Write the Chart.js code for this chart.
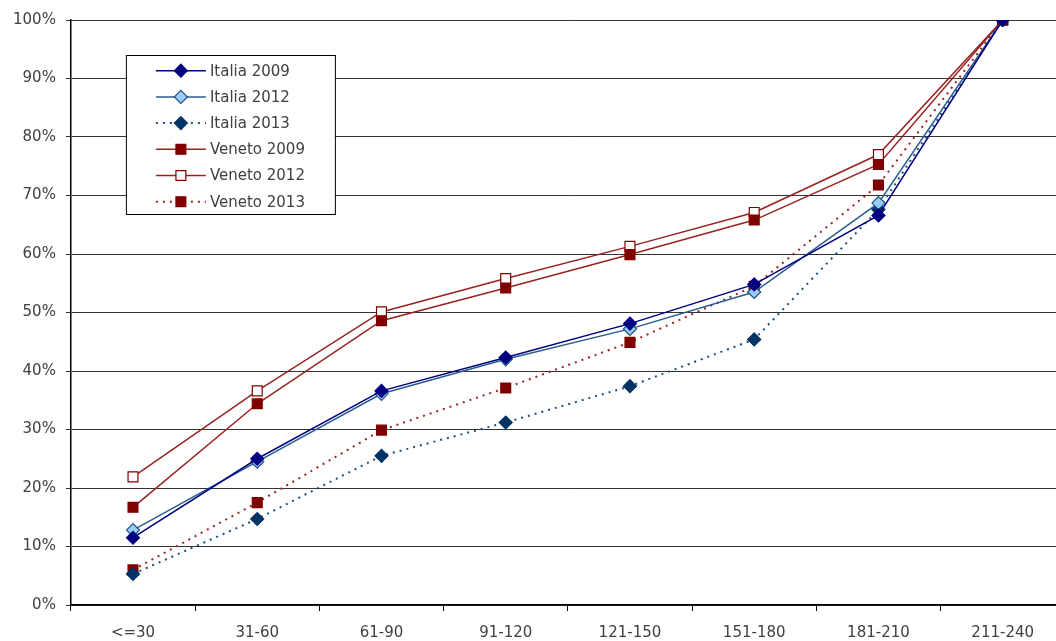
<!DOCTYPE html>
<html>
<head>
<meta charset="utf-8">
<script src="https://cdn.jsdelivr.net/npm/chart.js@4/dist/chart.umd.min.js"></script>
<style>
  html, body { margin: 0; padding: 0; background: #fff; overflow: hidden; }
  #wrap { position: relative; width: 1056px; height: 641px; overflow: hidden; }
  #c { position: absolute; left: 0; top: 0; }
</style>
</head>
<body>
<div id="wrap"><canvas id="c" width="1073" height="655"></canvas></div>
<script>
const categories = ['<=30', '31-60', '61-90', '91-120', '121-150', '151-180', '181-210', '211-240'];
const yTickValues = [0, 10, 20, 30, 40, 50, 60, 70, 80, 90, 100];

const italia2009 = [11.5, 25.0, 36.6, 42.3, 48.1, 54.8, 66.6, 100];
const italia2012 = [12.8, 24.5, 36.1, 42.0, 47.2, 53.5, 68.7, 100];
const italia2013 = [5.3, 14.7, 25.5, 31.2, 37.4, 45.4, 67.6, 100];
const veneto2009 = [16.7, 34.4, 48.6, 54.2, 59.9, 65.8, 75.3, 100];
const veneto2012 = [21.9, 36.6, 50.1, 55.8, 61.3, 67.1, 77.0, 100];
const veneto2013 = [6.0, 17.5, 29.9, 37.1, 44.9, 54.5, 71.8, 100];

const FONT = '"DejaVu Sans", Verdana, sans-serif';
const TXT = '#404040';

const datasets = [
  { label: 'Italia 2009', data: italia2009, borderColor: '#000080', backgroundColor: '#000080',
    pointBorderColor: '#000080', pointStyle: 'rectRot', pointRadius: 6.5, borderDash: [] },
  { label: 'Italia 2012', data: italia2012, borderColor: '#2A5E8E', backgroundColor: '#99CCFF',
    pointBorderColor: '#1F4F80', pointStyle: 'rectRot', pointRadius: 6.5, borderDash: [] },
  { label: 'Italia 2013', data: italia2013, borderColor: '#1F4E79', backgroundColor: '#003366',
    pointBorderColor: '#003366', pointStyle: 'rectRot', pointRadius: 6.5, borderDash: [2, 5] },
  { label: 'Veneto 2009', data: veneto2009, borderColor: '#992222', backgroundColor: '#800000',
    pointBorderColor: '#800000', pointStyle: 'rect', pointRadius: 7, borderDash: [] },
  { label: 'Veneto 2012', data: veneto2012, borderColor: '#992222', backgroundColor: '#FFFFFF',
    pointBorderColor: '#800000', pointStyle: 'rect', pointRadius: 7, borderDash: [] },
  { label: 'Veneto 2013', data: veneto2013, borderColor: '#992222', backgroundColor: '#800000',
    pointBorderColor: '#800000', pointStyle: 'rect', pointRadius: 7, borderDash: [2, 5] }
].map(d => Object.assign({
  borderWidth: d.borderDash.length ? 2 : 1.5,
  pointBackgroundColor: d.backgroundColor,
  pointBorderWidth: 1.2,
  pointHoverRadius: d.pointRadius,
  tension: 0,
  fill: false
}, d));

function drawMarker(ctx, style, x, y, r, fill, stroke, bw) {
  ctx.beginPath();
  if (style === 'rectRot') {
    ctx.moveTo(x, y - r); ctx.lineTo(x + r, y); ctx.lineTo(x, y + r); ctx.lineTo(x - r, y);
  } else {
    const s = r * Math.SQRT1_2;
    ctx.rect(x - s, y - s, 2 * s, 2 * s);
  }
  ctx.closePath();
  ctx.fillStyle = fill; ctx.fill();
  ctx.lineWidth = bw; ctx.strokeStyle = stroke; ctx.setLineDash([]); ctx.stroke();
}

const boxLegend = {
  id: 'boxLegend',
  afterDatasetsDraw(chart) {
    const ctx = chart.ctx;
    const ca = chart.chartArea;
    const bx = ca.left + 55, by = ca.top + 35, bw = 209, bh = 159;
    ctx.save();
    ctx.fillStyle = '#fff';
    ctx.fillRect(bx, by, bw, bh);
    ctx.strokeStyle = '#000'; ctx.lineWidth = 1;
    ctx.strokeRect(bx + 0.5, by + 0.5, bw, bh);
    const rowH = 26.2;
    chart.data.datasets.forEach((d, i) => {
      const y = by + 15.7 + i * rowH;
      ctx.beginPath();
      ctx.setLineDash(d.borderDash);
      ctx.strokeStyle = d.borderColor; ctx.lineWidth = d.borderWidth;
      ctx.moveTo(bx + 30, y); ctx.lineTo(bx + 80, y);
      ctx.stroke();
      drawMarker(ctx, d.pointStyle, bx + 55, y, d.pointRadius, d.pointBackgroundColor, d.pointBorderColor, d.pointBorderWidth);
      ctx.fillStyle = TXT;
      ctx.font = '15px ' + FONT;
      ctx.textAlign = 'left'; ctx.textBaseline = 'middle';
      ctx.fillText(d.label, bx + 84, y + 1);
    });
    ctx.restore();
  }
};

new Chart(document.getElementById('c'), {
  type: 'line',
  data: { labels: categories, datasets: datasets },
  options: {
    responsive: false,
    animation: false,
    layout: { padding: { left: 3, top: 20, right: 0, bottom: 0 } },
    plugins: { legend: { display: false }, tooltip: { enabled: false } },
    scales: {
      x: {
        type: 'category',
        offset: true,
        grid: { offset: true, drawOnChartArea: false, drawTicks: true, tickLength: 6, color: '#000', lineWidth: 1 },
        border: { display: true, color: '#000', width: 1.5 },
        ticks: { color: TXT, font: { family: FONT, size: 15 }, padding: 13, maxRotation: 0, autoSkip: false }
      },
      y: {
        min: 0, max: 100,
        afterBuildTicks(scale) { scale.ticks = yTickValues.map(v => ({ value: v })); },
        grid: { color: '#333', lineWidth: 1, drawTicks: true, tickLength: 5 },
        border: { display: true, color: '#000', width: 1.5 },
        ticks: { color: TXT, font: { family: FONT, size: 15 }, padding: 10, callback: v => v + '%' }
      }
    }
  },
  plugins: [boxLegend]
});
</script>
</body>
</html>
